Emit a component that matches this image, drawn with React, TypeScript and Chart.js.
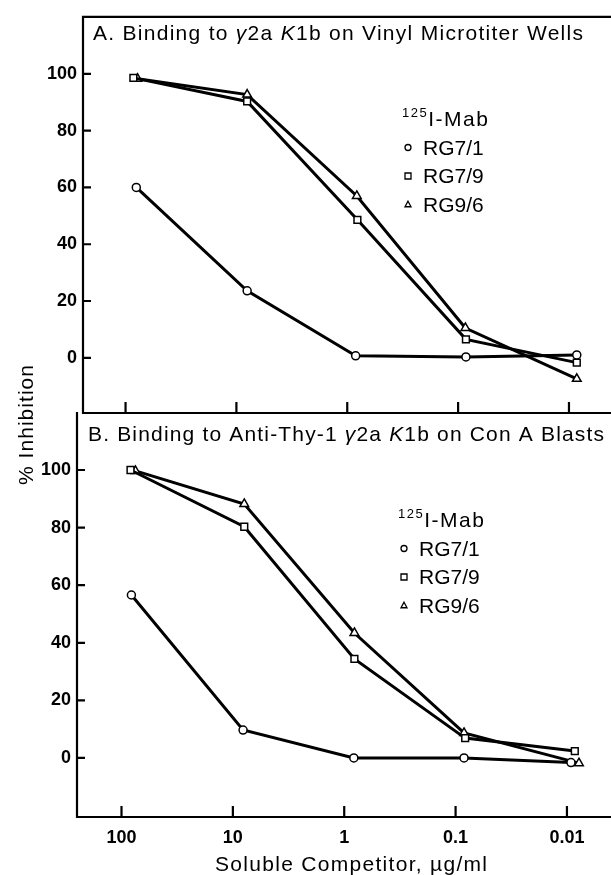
import React, { useEffect, useRef } from "react";
import { Chart, registerables } from "chart.js";

Chart.register(...registerables);

// ---------- data ----------
const xTickValues = [100, 10, 1, 0.1, 0.01];
const xTickLabels = ["100", "10", "1", "0.1", "0.01"];
const yTickValues = [0, 20, 40, 60, 80, 100];
const seriesNames = ["RG7/1", "RG7/9", "RG9/6"];
const seriesStyles = ["circle", "rect", "triangle"];
const legendIsotope = "125";
const legendHeader = "I-Mab";
const xAxisTitle = "Soluble Competitor, \u00b5g/ml";
const yAxisTitle = "% Inhibition";

// Panel A: Binding to γ2a K1b on Vinyl Microtiter Wells
const aX_RG71 = [80, 8.0, 0.84, 0.085, 0.0085];
const aY_RG71 = [60, 23.6, 0.7, 0.3, 1];
const aX_RG79 = [85, 8.0, 0.81, 0.085, 0.0085];
const aY_RG79 = [98.6, 90.3, 48.6, 6.5, -1.7];
const aX_RG96 = [78, 8.0, 0.82, 0.086, 0.0085];
const aY_RG96 = [98.3, 92.7, 57, 10.5, -7.4];

// Panel B: Binding to Anti-Thy-1 γ2a K1b on Con A Blasts
const bX_RG71 = [81.5, 8.1, 0.82, 0.084, 0.0092];
const bY_RG71 = [56.6, 9.7, 0, 0, -1.6];
const bX_RG79 = [83, 7.9, 0.81, 0.082, 0.0085];
const bY_RG79 = [100, 80.3, 34.4, 6.9, 2.4];
const bX_RG96 = [75, 7.9, 0.81, 0.084, 0.0078];
const bY_RG96 = [99.7, 88.2, 43.4, 8.7, -1.8];

const FONT = "'Liberation Sans', Arial, Helvetica, sans-serif";

type Seg = { t: string; italic?: boolean; size?: number; dy?: number };

const titleA: Seg[] = [
  { t: "A. Binding to " },
  { t: "\u03b3", italic: true },
  { t: "2a " },
  { t: "K", italic: true },
  { t: "1b on Vinyl Microtiter Wells" },
];
const titleB: Seg[] = [
  { t: "B. Binding to Anti-Thy-1 " },
  { t: "\u03b3", italic: true },
  { t: "2a " },
  { t: "K", italic: true },
  { t: "1b on Con A Blasts" },
];

function fontFor(s: Seg, base: number) {
  return `${s.italic ? "italic " : ""}${s.size ?? base}px ${FONT}`;
}

// draws segments on one baseline; optional target width spreads letters
function drawRich(
  ctx: CanvasRenderingContext2D,
  segs: Seg[],
  x: number,
  y: number,
  base: number,
  target?: number,
  centered?: boolean
) {
  ctx.save();
  (ctx as any).letterSpacing = "0px";
  let natural = 0;
  let chars = 0;
  const widths: number[] = [];
  for (const s of segs) {
    ctx.font = fontFor(s, base);
    const w = ctx.measureText(s.t).width;
    widths.push(w);
    natural += w;
    chars += Array.from(s.t).length;
  }
  const ls = target ? Math.max(-0.5, (target - natural) / Math.max(1, chars - 1)) : 0;
  const total = natural + ls * (chars - 1);
  let cx = centered ? x - total / 2 : x;
  ctx.fillStyle = "#000";
  ctx.textAlign = "left";
  ctx.textBaseline = "alphabetic";
  (ctx as any).letterSpacing = `${ls}px`;
  segs.forEach((s, i) => {
    ctx.font = fontFor(s, base);
    ctx.fillText(s.t, cx, y + (s.dy ?? 0));
    cx += widths[i] + ls * Array.from(s.t).length;
  });
  ctx.restore();
}

function drawMarker(ctx: CanvasRenderingContext2D, style: string, x: number, y: number, r: number) {
  ctx.save();
  ctx.beginPath();
  if (style === "circle") ctx.arc(x, y, r, 0, Math.PI * 2);
  else if (style === "rect") ctx.rect(x - r, y - r, r * 2, r * 2);
  else {
    ctx.moveTo(x, y - r * 1.1);
    ctx.lineTo(x + r, y + r * 0.75);
    ctx.lineTo(x - r, y + r * 0.75);
    ctx.closePath();
  }
  ctx.fillStyle = "#fff";
  ctx.fill();
  ctx.strokeStyle = "#000";
  ctx.lineWidth = 1.3;
  ctx.stroke();
  ctx.restore();
}

type PanelCfg = {
  title: Seg[];
  titleX: number;
  titleY: number;
  titleW: number;
  topBorder: boolean;
  legendX: number;
  legendY: number;
  showAxisTitles: boolean;
};

function panelPlugin(cfg: PanelCfg) {
  return {
    id: "panelDecor",
    afterDraw(chart: any) {
      const ctx: CanvasRenderingContext2D = chart.ctx;
      const { left, top, bottom } = chart.chartArea;
      const xs = chart.scales.x;
      const ys = chart.scales.y;
      ctx.save();
      ctx.strokeStyle = "#000";
      ctx.lineWidth = 2.2;
      ctx.beginPath();
      ctx.moveTo(left, top - 1);
      ctx.lineTo(left, bottom + 1);
      ctx.moveTo(left - 1, bottom);
      ctx.lineTo(chart.width, bottom);
      if (cfg.topBorder) {
        ctx.moveTo(left - 1, top);
        ctx.lineTo(chart.width, top);
      }
      for (const v of yTickValues) {
        const py = ys.getPixelForValue(v);
        ctx.moveTo(left, py);
        ctx.lineTo(left + 8, py);
      }
      for (const v of xTickValues) {
        const px = xs.getPixelForValue(v);
        ctx.moveTo(px, bottom);
        ctx.lineTo(px, bottom - 11);
      }
      ctx.stroke();

      // panel title
      drawRich(ctx, cfg.title, cfg.titleX, cfg.titleY, 21, cfg.titleW);

      // legend
      const lx = cfg.legendX;
      const ly = cfg.legendY;
      drawRich(ctx, [{ t: legendIsotope, size: 13, dy: -9 }, { t: legendHeader }], lx, ly, 21, 86);
      seriesNames.forEach((name, i) => {
        const y = ly + 28.5 * (i + 1);
        drawMarker(ctx, seriesStyles[i], lx + 6, y - 7, 3);
        drawRich(ctx, [{ t: name }], lx + 21, y, 21);
      });

      if (cfg.showAxisTitles) {
        drawRich(ctx, [{ t: xAxisTitle }], 351, 871, 21, 272, true);
        ctx.save();
        ctx.translate(33, 425);
        ctx.rotate(-Math.PI / 2);
        drawRich(ctx, [{ t: yAxisTitle }], 0, 0, 21, 120, true);
        ctx.restore();
      }
      ctx.restore();
    },
  };
}

function makeDatasets(xs: number[][], ys: number[][]) {
  return seriesNames.map((name, i) => ({
    label: name,
    data: xs[i].map((x, j) => ({ x, y: ys[i][j] })),
    borderColor: "#000",
    borderWidth: 3,
    tension: 0,
    pointStyle: seriesStyles[i] as any,
    pointRadius: i === 0 ? 4 : i === 1 ? 4.8 : 5,
    pointBackgroundColor: "#fff",
    pointBorderColor: "#000",
    pointBorderWidth: 1.5,
    fill: false,
  }));
}

function buildConfig(opts: {
  xs: number[][];
  ys: number[][];
  xMin: number;
  xMax: number;
  yMin: number;
  yMax: number;
  axisLeft: number;
  axisBottomSpace: number;
  padTop: number;
  showXLabels: boolean;
  plugin: any;
}) {
  return {
    type: "line" as const,
    data: { datasets: makeDatasets(opts.xs, opts.ys) },
    options: {
      animation: false as const,
      responsive: false,
      devicePixelRatio: 1,
      events: [] as any[],
      layout: { padding: { top: opts.padTop, left: 0, right: 0, bottom: 0 } },
      plugins: { legend: { display: false }, tooltip: { enabled: false }, title: { display: false } },
      scales: {
        x: {
          type: "logarithmic" as const,
          reverse: true,
          min: opts.xMin,
          max: opts.xMax,
          grid: { display: false, drawTicks: false },
          border: { display: false },
          afterBuildTicks: (s: any) => {
            s.ticks = xTickValues.map((v) => ({ value: v }));
          },
          afterFit: (s: any) => {
            s.height = opts.axisBottomSpace;
          },
          ticks: {
            display: opts.showXLabels,
            autoSkip: false,
            maxRotation: 0,
            padding: 10,
            color: "#000",
            font: { family: FONT, size: 18, weight: "bold" as const },
            callback: (_v: any, i: number) => xTickLabels[i],
          },
        },
        y: {
          type: "linear" as const,
          min: opts.yMin,
          max: opts.yMax,
          grid: { display: false, drawTicks: false },
          border: { display: false },
          afterBuildTicks: (s: any) => {
            s.ticks = yTickValues.map((v) => ({ value: v }));
          },
          afterFit: (s: any) => {
            s.width = opts.axisLeft;
          },
          ticks: {
            autoSkip: false,
            padding: 6,
            color: "#000",
            font: { family: FONT, size: 18, weight: "bold" as const },
            callback: (v: any) => String(v),
          },
        },
      },
    },
    plugins: [opts.plugin],
  };
}

function Panel({ which }: { which: "A" | "B" }) {
  const ref = useRef<HTMLCanvasElement>(null);
  useEffect(() => {
    if (!ref.current) return;
    const cfg =
      which === "A"
        ? buildConfig({
            xs: [aX_RG71, aX_RG79, aX_RG96],
            ys: [aY_RG71, aY_RG79, aY_RG96],
            xMin: 0.00478,
            xMax: 242,
            yMin: -19.44,
            yMax: 120.1,
            axisLeft: 83,
            axisBottomSpace: 875 - 413,
            padTop: 11,
            showXLabels: false,
            plugin: panelPlugin({
              title: titleA,
              titleX: 93,
              titleY: 40,
              titleW: 490,
              topBorder: true,
              legendX: 402,
              legendY: 126,
              showAxisTitles: false,
            }),
          })
        : buildConfig({
            xs: [bX_RG71, bX_RG79, bX_RG96],
            ys: [bY_RG71, bY_RG79, bY_RG96],
            xMin: 0.0046,
            xMax: 251,
            yMin: -20.5,
            yMax: 119.8,
            axisLeft: 77,
            axisBottomSpace: 875 - 817,
            padTop: 413,
            showXLabels: true,
            plugin: panelPlugin({
              title: titleB,
              titleX: 88,
              titleY: 441,
              titleW: 516,
              topBorder: false,
              legendX: 398,
              legendY: 527,
              showAxisTitles: true,
            }),
          });
    const chart = new Chart(ref.current, cfg as any);
    return () => chart.destroy();
  }, [which]);
  return (
    <canvas
      ref={ref}
      width={611}
      height={875}
      style={{ position: "absolute", left: 0, top: 0, width: 611, height: 875 }}
    />
  );
}

export default function App() {
  return (
    <div
      style={{
        position: "absolute",
        left: 0,
        top: 0,
        width: 611,
        height: 875,
        background: "#fff",
        overflow: "hidden",
      }}
    >
      <Panel which="A" />
      <Panel which="B" />
    </div>
  );
}
